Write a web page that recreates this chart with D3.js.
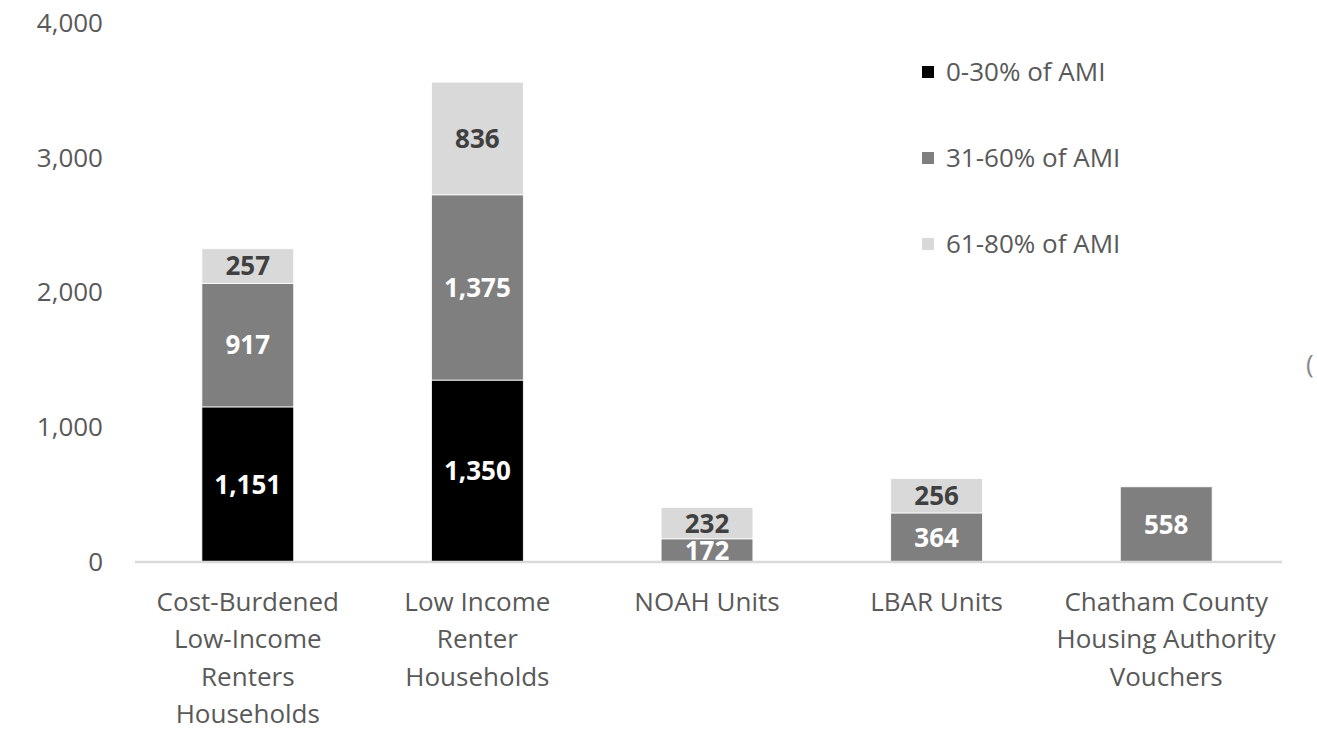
<!DOCTYPE html>
<html>
<head>
<meta charset="utf-8">
<script src="https://cdn.jsdelivr.net/npm/d3@7"></script>
<style>
  html, body { margin: 0; padding: 0; background: #fff; }
  svg { display: block; font-family: "Open Sans", "Noto Sans", sans-serif; }
</style>
</head>
<body>
<svg id="chart" width="1317" height="730"></svg>
<script>
// Categories (multi-line labels) and stacked series by income band
const categories = [
  ["Cost-Burdened", "Low-Income", "Renters", "Households"],
  ["Low Income", "Renter", "Households"],
  ["NOAH Units"],
  ["LBAR Units"],
  ["Chatham County", "Housing Authority", "Vouchers"]
];
const seriesNames = ["0-30% of AMI", "31-60% of AMI", "61-80% of AMI"];
const ami0to30  = [1151, 1350, 0, 0, 0];
const ami31to60 = [917, 1375, 172, 364, 558];
const ami61to80 = [257, 836, 232, 256, 0];
const yTicks = [0, 1000, 2000, 3000, 4000];

const colors = ["#000000", "#7f7f7f", "#d9d9d9"];
const labelColors = ["#ffffff", "#ffffff", "#404040"];
const FS = 26;

const svg = d3.select("#chart");
const axisStart = 135, axisEnd = 1282;
const baseline = 562;

const x = d3.scaleBand()
  .domain(d3.range(categories.length))
  .range([133, 1281])
  .paddingInner(0.6)
  .paddingOuter(0.3);

const y = d3.scaleLinear().domain([0, 4000]).range([baseline, 23]);

// Build stack rows
const rows = categories.map((c, i) => ({
  i,
  s0: ami0to30[i], s1: ami31to60[i], s2: ami61to80[i]
}));
const stack = d3.stack().keys(["s0", "s1", "s2"]);
const layers = stack(rows);

// Y axis labels (no line, no ticks)
const yAxis = d3.axisLeft(y)
  .tickValues(yTicks)
  .tickFormat(d3.format(","))
  .tickSize(0)
  .tickPadding(0);
const yg = svg.append("g").attr("transform", "translate(103,0)").call(yAxis);
yg.select(".domain").remove();
yg.selectAll("text")
  .attr("fill", "#595959")
  .attr("font-size", FS)
  .attr("font-family", "'Open Sans', 'Noto Sans', sans-serif");

// Bars
layers.forEach((layer, k) => {
  svg.append("g")
    .selectAll("rect")
    .data(layer.filter(d => d[1] - d[0] > 0))
    .join("rect")
    .attr("x", d => x(d.data.i))
    .attr("width", x.bandwidth())
    .attr("y", d => y(d[1]))
    .attr("height", d => y(d[0]) - y(d[1]))
    .attr("fill", colors[k])
    .attr("stroke", "#ffffff")
    .attr("stroke-width", 0.8);
});

// Value labels
layers.forEach((layer, k) => {
  svg.append("g")
    .selectAll("text")
    .data(layer.filter(d => d[1] - d[0] > 0))
    .join("text")
    .attr("x", d => x(d.data.i) + x.bandwidth() / 2)
    .attr("y", d => (y(d[0]) + y(d[1])) / 2)
    .attr("dy", "0.36em")
    .attr("text-anchor", "middle")
    .attr("font-size", FS)
    .attr("font-weight", "bold")
    .attr("fill", labelColors[k])
    .text(d => d3.format(",")(d[1] - d[0]));
});

// X axis baseline
const xAxis = d3.axisBottom(x).tickSize(0).tickFormat("");
const xg = svg.append("g").attr("transform", `translate(0,${baseline})`).call(xAxis);
xg.select(".domain")
  .attr("stroke", "#d9d9d9")
  .attr("stroke-width", 2.5)
  .attr("d", `M${axisStart},0H${axisEnd}`);

// Category labels
const catG = svg.append("g");
categories.forEach((lines, i) => {
  const cx = x(i) + x.bandwidth() / 2;
  const t = catG.append("text")
    .attr("x", cx)
    .attr("y", 611)
    .attr("text-anchor", "middle")
    .attr("font-size", FS)
    .attr("fill", "#595959");
  lines.forEach((ln, j) => {
    t.append("tspan")
      .attr("x", cx)
      .attr("dy", j === 0 ? 0 : 37.3)
      .text(ln);
  });
});

// Legend
const legend = svg.append("g");
seriesNames.forEach((name, k) => {
  const ly = 72 + k * 86;
  legend.append("rect")
    .attr("x", 922).attr("y", ly - 6)
    .attr("width", 12).attr("height", 12)
    .attr("fill", colors[k]);
  legend.append("text")
    .attr("x", 946).attr("y", ly)
    .attr("dy", "0.36em")
    .attr("font-size", FS)
    .attr("fill", "#595959")
    .text(name);
});

// Clipped glyph at right edge
svg.append("text")
  .attr("x", 1306).attr("y", 364)
  .attr("dy", "0.36em")
  .attr("font-size", FS)
  .attr("fill", "#8a8a8a")
  .text("(");
</script>
</body>
</html>
